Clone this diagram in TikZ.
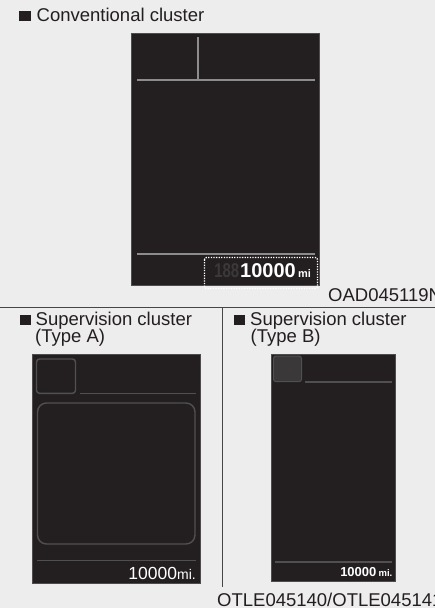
\documentclass[tikz,border=0pt]{standalone}
\usepackage{fontspec}
\setmainfont{Liberation Sans}
\definecolor{bg}{RGB}{237,237,237}
\definecolor{panel}{RGB}{35,31,32}
\definecolor{ink}{RGB}{35,31,32}
\definecolor{conv}{RGB}{140,140,140}
\definecolor{dimline}{RGB}{80,80,80}
\definecolor{ghost}{RGB}{58,56,56}
\definecolor{sep}{RGB}{70,70,70}
\definecolor{keyfill}{RGB}{58,56,56}
\begin{document}
\begin{tikzpicture}[x=1pt,y=-1pt,
 title/.style={inner sep=0pt,anchor=base west,text=ink,font=\fontsize{18.5}{18}\selectfont},
 code/.style={inner sep=0pt,anchor=base west,text=ink,font=\fontsize{18.5}{18}\selectfont},
 bullet/.style={fill=ink},
 panelbox/.style={fill=panel,draw=panel!80!white,line width=0.5pt},
 convline/.style={draw=conv,line width=1.8pt},
 dline/.style={draw=dimline,line width=1.4pt},
 readout/.style={inner sep=0pt,text=white},
]
\useasboundingbox (0,0) rectangle (435,608);
\fill[bg] (0,0) rectangle (435,608);
\begin{scope}
\clip (0,0) rectangle (435,608);

% separators
\draw[sep,line width=0.9pt] (0,307.3) -- (435,307.3);
\draw[sep,line width=0.9pt] (222.6,307.3) -- (222.6,587);

% ---------- Conventional cluster ----------
\fill[bullet] (19,11) rectangle (30.6,21.4);
\node[title] (t1) at (36.5,21.4) {Conventional cluster};
\fill[panelbox] (131,33) rectangle (319,285);
\draw[convline] (137,80) -- (315,80);
\draw[convline] (198,37) -- (198,80);
\draw[convline] (137,254) -- (315,254);
\node[readout,anchor=base east,text=ghost,font=\bfseries\fontsize{20}{20}\selectfont] (ghostdigits) at (239.5,277.3) {\scalebox{0.75}[1]{188}};
\node[readout,anchor=base west,font=\bfseries\fontsize{20}{20}\selectfont] (odo) at (240,277.3) {10000};
\node[readout,anchor=base west,font=\bfseries\fontsize{11}{11}\selectfont] (odounit) at (298,277.3) {mi};
\draw[white,line width=1.3pt,dash pattern=on 1.3pt off 1.3pt,rounded corners=2pt] (204.5,257.5) rectangle (317.5,288.5);
\node[code] (c1) at (328,301.7) {OAD045119N};

% ---------- Supervision cluster (Type A) ----------
\fill[bullet] (19.5,315) rectangle (30.8,325.3);
\node[title] (t2) at (35.5,325.3) {Supervision cluster};
\node[title] (t2b) at (35,342.9) {(Type A)};
\fill[panelbox] (32.5,354) rectangle (200.5,583.5);
\draw[dline,rounded corners=3pt] (36.5,359) rectangle (75.5,393.3);
\draw[dline] (79.5,393.3) -- (196,393.3);
\draw[dline,rounded corners=9pt] (37.5,403) rectangle (195,544);
\draw[dline] (37,560.7) -- (196,560.7);
\node[readout,anchor=base east] (odoA) at (196,579.3) {\fontsize{17.5}{18}\selectfont 10000\fontsize{14}{14}\selectfont mi.};

% ---------- Supervision cluster (Type B) ----------
\fill[bullet] (233.5,315) rectangle (245,325.3);
\node[title] (t3) at (250,325.3) {Supervision cluster};
\node[title] (t3b) at (250.5,342.9) {(Type B)};
\fill[panelbox] (271,354) rectangle (395,581.5);
\draw[fill=keyfill,draw=dimline,line width=1pt,rounded corners=2.5pt] (273.5,356) rectangle (301.5,381.7);
\draw[dline] (305,382) -- (392,382);
\draw[dline] (275,562) -- (392,562);
\node[readout,anchor=base east] (odoB) at (392.5,576.7) {\bfseries\fontsize{13}{13}\selectfont 10000\,\fontsize{9.5}{10}\selectfont mi.};
\node[code] (c2) at (217,606) {OTLE045140/OTLE045141};
\end{scope}
\end{tikzpicture}
\end{document}
